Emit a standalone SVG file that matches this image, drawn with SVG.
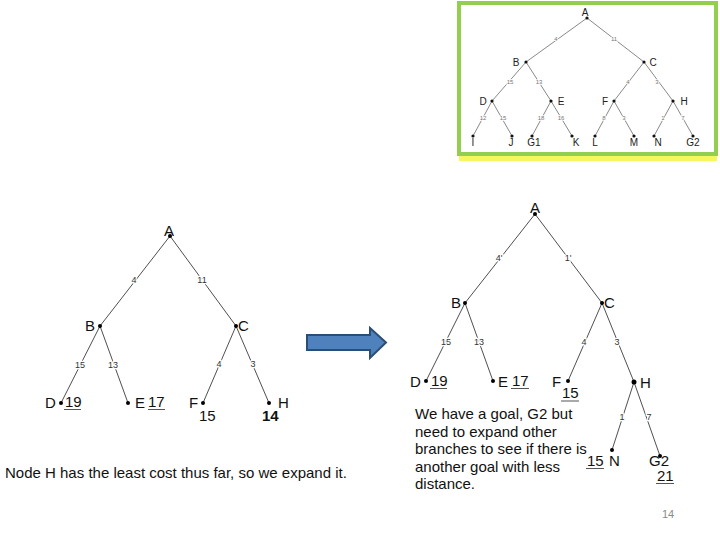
<svg xmlns="http://www.w3.org/2000/svg" width="720" height="540" viewBox="0 0 720 540">
<style>
text{font-family:"Liberation Sans",Arial,sans-serif;fill:#111}
.n{font-size:15px}
.e{font-size:9px;fill:#333;stroke:#fff;stroke-width:2.5px;paint-order:stroke}
.lb{font-size:15px}
.ln{stroke:#222;stroke-width:0.8;fill:none}
.ul{stroke:#555;stroke-width:1}
.sl{stroke:#555;stroke-width:0.7;fill:none}
.sn{font-size:10px;fill:#222}
.se{font-size:6px;fill:#777;stroke:#fff;stroke-width:1.5px;paint-order:stroke}
</style>
<rect width="720" height="540" fill="#fff"/>

<!-- inset picture -->
<g id="inset">
<rect x="459" y="155" width="258" height="6" fill="#f4f436" opacity="0.8"/>
<rect x="459" y="3" width="257" height="151" fill="#fff" stroke="#92cf50" stroke-width="4"/>
<g id="inset-edges">
<path class="sl" d="M587 18L526 62M587 18L644 62M526 62L492 101M526 62L551 101M644 62L614 101M644 62L673 101M492 101L473 136M492 101L512 136M551 101L532 136M551 101L572 136M614 101L595 136M614 101L634 136M673 101L654 136M673 101L693 136"/>
<text class="se" x="556" y="41" text-anchor="middle">4</text>
<text class="se" x="614" y="41" text-anchor="middle">11</text>
<text class="se" x="510" y="84" text-anchor="middle">15</text>
<text class="se" x="539" y="84" text-anchor="middle">13</text>
<text class="se" x="628" y="84" text-anchor="middle">4</text>
<text class="se" x="657" y="84" text-anchor="middle">3</text>
<text class="se" x="483" y="120" text-anchor="middle">12</text>
<text class="se" x="503" y="120" text-anchor="middle">15</text>
<text class="se" x="541" y="120" text-anchor="middle">18</text>
<text class="se" x="561" y="120" text-anchor="middle">16</text>
<text class="se" x="604" y="120" text-anchor="middle">8</text>
<text class="se" x="624" y="120" text-anchor="middle">3</text>
<text class="se" x="663" y="120" text-anchor="middle">1</text>
<text class="se" x="683" y="120" text-anchor="middle">7</text>
</g>
<g fill="#111">
<circle cx="587" cy="18" r="1.6"/><circle cx="526" cy="62" r="1.6"/><circle cx="644" cy="62" r="1.6"/>
<circle cx="492" cy="101" r="1.6"/><circle cx="551" cy="101" r="1.6"/><circle cx="614" cy="101" r="1.6"/><circle cx="673" cy="101" r="1.6"/>
<circle cx="473" cy="136" r="1.6"/><circle cx="512" cy="136" r="1.6"/><circle cx="532" cy="136" r="1.6"/><circle cx="572" cy="136" r="1.6"/>
<circle cx="595" cy="136" r="1.6"/><circle cx="634" cy="136" r="1.6"/><circle cx="654" cy="136" r="1.6"/><circle cx="693" cy="136" r="1.6"/>
</g>
<text class="sn" x="585" y="16" text-anchor="middle">A</text>
<text class="sn" x="516" y="66" text-anchor="middle">B</text>
<text class="sn" x="653" y="66" text-anchor="middle">C</text>
<text class="sn" x="483" y="105" text-anchor="middle">D</text>
<text class="sn" x="561" y="105" text-anchor="middle">E</text>
<text class="sn" x="605" y="105" text-anchor="middle">F</text>
<text class="sn" x="684" y="105" text-anchor="middle">H</text>
<text class="sn" x="473" y="146" text-anchor="middle">I</text>
<text class="sn" x="511" y="146" text-anchor="middle">J</text>
<text class="sn" x="534" y="146" text-anchor="middle">G1</text>
<text class="sn" x="576" y="146" text-anchor="middle">K</text>
<text class="sn" x="595" y="146" text-anchor="middle">L</text>
<text class="sn" x="634" y="146" text-anchor="middle">M</text>
<text class="sn" x="658" y="146" text-anchor="middle">N</text>
<text class="sn" x="693" y="146" text-anchor="middle">G2</text>
</g>

<!-- left tree connectors -->
<g id="left-edges">
<path class="ln" d="M170 236L100 326M170 236L236 326M100 326L61 403M100 326L128 403M236 326L203 403M236 326L269 403"/>
<text class="e" x="134" y="283" text-anchor="middle">4</text>
<text class="e" x="202" y="283" text-anchor="middle">11</text>
<text class="e" x="80" y="368" text-anchor="middle">15</text>
<text class="e" x="113" y="368" text-anchor="middle">13</text>
<text class="e" x="219" y="367" text-anchor="middle">4</text>
<text class="e" x="253" y="367" text-anchor="middle">3</text>
</g>
<g id="L-A"><circle cx="170" cy="236" r="2"/><text class="n" x="169" y="236" text-anchor="middle">A</text></g>
<g id="L-B"><circle cx="100" cy="326" r="2"/><text class="n" x="85" y="331">B</text></g>
<g id="L-C"><circle cx="236" cy="326" r="2"/><text class="n" x="238" y="331">C</text></g>
<g id="L-D"><circle cx="61" cy="403" r="2"/><text class="n" x="45" y="408">D</text><text class="n" x="65" y="407">19</text><line class="ul" x1="64" y1="409.5" x2="81" y2="409.5"/></g>
<g id="L-E"><circle cx="128" cy="403" r="2"/><text class="n" x="135" y="408">E</text><text class="n" x="148" y="407">17</text><line class="ul" x1="148" y1="409.5" x2="165" y2="409.5"/></g>
<g id="L-F"><circle cx="203" cy="403" r="2"/><text class="n" x="189" y="408">F</text><text class="n" x="199" y="421">15</text></g>
<g id="L-H"><circle cx="269" cy="403" r="2"/><text class="n" x="278" y="408">H</text><text class="n" x="262" y="421" font-weight="bold">14</text></g>
<text class="lb" x="5" y="478">Node H has the least cost thus far, so we expand it.</text>

<!-- arrow -->
<g id="arrow">
<path d="M307 335H370V328L386 342.5L370 358V350H307Z" fill="#4f81bd" stroke="#2c4d75" stroke-width="2" stroke-linejoin="miter"/>
</g>

<!-- right tree connectors -->
<g id="right-edges">
<path class="ln" d="M535 214L465 303M535 214L602 303M465 303L426 381M465 303L493 381M602 303L568 381M602 303L634 382M634 382L612 450M634 382L660 456"/>
<text class="e" x="499" y="261" text-anchor="middle">4'</text>
<text class="e" x="568" y="261" text-anchor="middle">1'</text>
<text class="e" x="446" y="345" text-anchor="middle">15</text>
<text class="e" x="479" y="345" text-anchor="middle">13</text>
<text class="e" x="584" y="345" text-anchor="middle">4</text>
<text class="e" x="617" y="345" text-anchor="middle">3</text>
<text class="e" x="622" y="420" text-anchor="middle">1</text>
<text class="e" x="649" y="420" text-anchor="middle">7</text>
</g>
<g id="R-A"><circle cx="535" cy="214" r="2"/><text class="n" x="535" y="213" text-anchor="middle">A</text></g>
<g id="R-B"><circle cx="465" cy="303" r="2"/><text class="n" x="451" y="308">B</text></g>
<g id="R-C"><circle cx="602" cy="303" r="2"/><text class="n" x="604" y="308">C</text></g>
<g id="R-D"><circle cx="426" cy="381" r="2"/><text class="n" x="410" y="387">D</text><text class="n" x="431" y="386">19</text><line class="ul" x1="430" y1="388.5" x2="447" y2="388.5"/></g>
<g id="R-E"><circle cx="493" cy="381" r="2"/><text class="n" x="498" y="387">E</text><text class="n" x="512" y="386">17</text><line class="ul" x1="511" y1="388.5" x2="529" y2="388.5"/></g>
<g id="R-F"><circle cx="568" cy="381" r="2"/><text class="n" x="552" y="387">F</text><text class="n" x="562" y="398">15</text><line class="ul" x1="561" y1="401" x2="579" y2="401"/></g>
<g id="R-H"><circle cx="634" cy="382" r="2.5"/><text class="n" x="640" y="388">H</text></g>
<g id="R-N"><circle cx="612" cy="450" r="2"/><text class="n" x="587" y="466">15</text><line class="ul" x1="586" y1="468.5" x2="604" y2="468.5"/><text class="n" x="609" y="466">N</text></g>
<g id="R-G2"><circle cx="660" cy="456" r="2"/><text class="n" x="649" y="466">G2</text><text class="n" x="657" y="481">21</text><line class="ul" x1="656" y1="483.5" x2="674" y2="483.5"/></g>
<text class="lb"><tspan x="415" y="419">We have a goal, G2 but</tspan><tspan x="415" y="437">need to expand other</tspan><tspan x="415" y="454">branches to see if there is</tspan><tspan x="415" y="472">another goal with less</tspan><tspan x="415" y="489">distance.</tspan></text>

<text x="668" y="518" font-size="11" text-anchor="middle" style="fill:#8a8a8a">14</text>
</svg>
